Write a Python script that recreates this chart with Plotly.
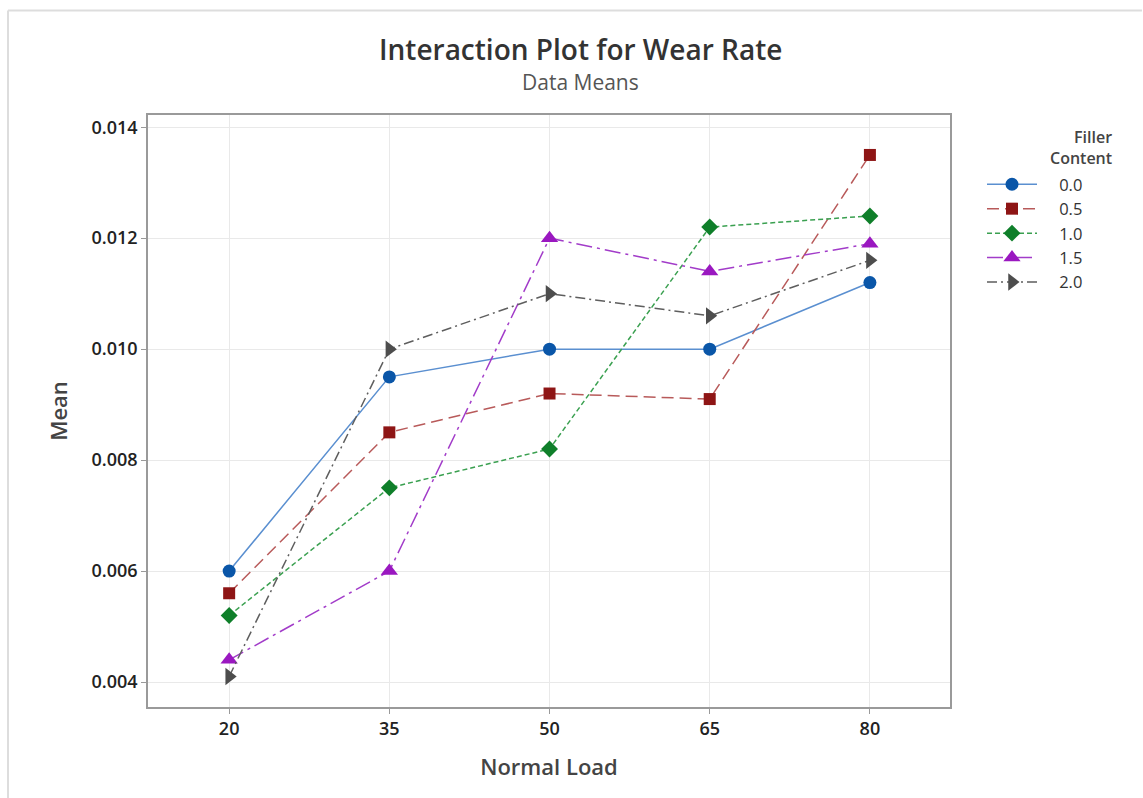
import plotly.graph_objects as go

# Mean wear rate by normal load for each filler content level
normal_load = [20, 35, 50, 65, 80]
filler_levels = ["0.0", "0.5", "1.0", "1.5", "2.0"]
mean_00 = [0.0060, 0.0095, 0.0100, 0.0100, 0.0112]
mean_05 = [0.0056, 0.0085, 0.0092, 0.0091, 0.0135]
mean_10 = [0.0052, 0.0075, 0.0082, 0.0122, 0.0124]
mean_15 = [0.0044, 0.0060, 0.0120, 0.0114, 0.0119]
mean_20 = [0.0041, 0.0100, 0.0110, 0.0106, 0.0116]
y_ticks = [0.004, 0.006, 0.008, 0.010, 0.012, 0.014]

series = [mean_00, mean_05, mean_10, mean_15, mean_20]
styles = [
    dict(mcolor="#0a56a8", lcolor="#5a8fd0", dash="solid", symbol="circle", size=13),
    dict(mcolor="#8e1515", lcolor="#b85a5a", dash="12px,6px", symbol="square", size=12),
    dict(mcolor="#0f7f2a", lcolor="#3aa050", dash="5px,3px", symbol="diamond", size=13),
    dict(mcolor="#9a18c0", lcolor="#a23cc9", dash="16px,5px,3px,5px", symbol="triangle-up", size=15),
    dict(mcolor="#4d4d4d", lcolor="#5e5e5e", dash="10px,4px,2px,4px", symbol="triangle-right", size=15),
]

FONT = "Open Sans, Noto Sans, sans-serif"
W, H = 1143, 798
L, R, T, B = 148, 193, 115, 91
pw, ph = W - L - R, H - T - B


def px(x):
    return (x - L) / pw


def py(y):
    return (H - B - y) / ph


fig = go.Figure()
for level, vals, st in zip(filler_levels, series, styles):
    fig.add_trace(go.Scatter(
        x=normal_load, y=vals, name="\u00a0\u00a0\u00a0\u00a0" + level,
        mode="lines+markers",
        line=dict(color=st["lcolor"], width=1.5, dash=st["dash"]),
        marker=dict(color=st["mcolor"], symbol=st["symbol"], size=st["size"],
                    line=dict(width=0)),
    ))

axis_common = dict(
    showline=True, linecolor="#9a9a9a", linewidth=1.5, mirror=True,
    showgrid=True, gridcolor="#e9e9e9", gridwidth=1,
    ticks="outside", ticklen=5, tickcolor="#9a9a9a",
    zeroline=False,
    tickfont=dict(family=FONT, size=18, color="#222", weight=600),
)

fig.update_xaxes(
    **axis_common, range=[12.4, 87.5], tickvals=normal_load,
    title=dict(text="Normal Load", standoff=20,
               font=dict(family=FONT, size=22, color="#444", weight=600)),
)
fig.update_yaxes(
    **axis_common, range=[0.00355, 0.01422], tickvals=y_ticks,
    tickformat=".3f",
    title=dict(text="Mean", standoff=18,
               font=dict(family=FONT, size=22, color="#444", weight=600)),
)

fig.update_layout(
    width=W, height=H,
    margin=dict(l=L, r=R, t=T, b=B, autoexpand=False),
    paper_bgcolor="white", plot_bgcolor="white",
    font=dict(family=FONT, color="#333"),
    showlegend=True,
    legend=dict(
        x=px(982), y=py(167), xanchor="left", yanchor="top",
        font=dict(family=FONT, size=16.5, color="#333"),
        itemwidth=50, bgcolor="rgba(0,0,0,0)",
    ),
    annotations=[
        dict(text="Interaction Plot for Wear Rate", x=px(580), y=py(49),
             xref="paper", yref="paper", xanchor="center", yanchor="middle",
             showarrow=False,
             font=dict(family=FONT, size=28, color="#333", weight=600)),
        dict(text="Data Means", x=px(580), y=py(82),
             xref="paper", yref="paper", xanchor="center", yanchor="middle",
             showarrow=False,
             font=dict(family=FONT, size=21, color="#555")),
        dict(text="Filler<br>Content", x=px(1114), y=py(148),
             xref="paper", yref="paper", xanchor="right", yanchor="middle",
             align="right", showarrow=False,
             font=dict(family=FONT, size=16, color="#444", weight=600)),
    ],
    shapes=[
        dict(type="line", xref="paper", yref="paper",
             x0=px(8), x1=px(1142), y0=py(10.5), y1=py(10.5),
             line=dict(color="#dddddd", width=2)),
        dict(type="line", xref="paper", yref="paper",
             x0=px(8), x1=px(8), y0=py(10.5), y1=py(798),
             line=dict(color="#dddddd", width=2)),
    ],
)

fig.write_html("out.html")
